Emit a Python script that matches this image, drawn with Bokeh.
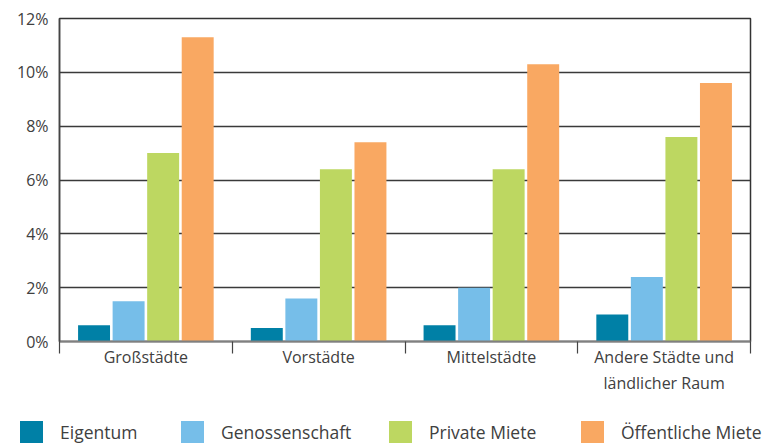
from bokeh.plotting import figure
from bokeh.models import Range1d, FixedTicker, ColumnDataSource, Div
from bokeh.layouts import column
from bokeh.embed import file_html
from bokeh.resources import INLINE

categories = ["Großstädte", "Vorstädte", "Mittelstädte", "Andere Städte und\nländlicher Raum"]
series_names = ["Eigentum", "Genossenschaft", "Private Miete", "Öffentliche Miete"]
eigentum = [0.6, 0.5, 0.6, 1.0]
genossenschaft = [1.5, 1.6, 2.0, 2.4]
private_miete = [7.0, 6.4, 6.4, 7.6]
oeffentliche_miete = [11.3, 7.4, 10.3, 9.6]
y_ticks = [0, 2, 4, 6, 8, 10, 12]
y_tick_labels = ["0%", "2%", "4%", "6%", "8%", "10%", "12%"]

colors = ["#0080a6", "#76bee9", "#bdd761", "#f9a862"]
offsets = [-0.3, -0.1, 0.1, 0.3]
legend_left_px = [20, 181, 389, 581]
FONT = "Open Sans"
TXT = "#404040"

p = figure(width=762, height=413, output_backend="svg", toolbar_location=None,
           x_range=Range1d(0, len(categories)), y_range=Range1d(0, 12),
           min_border_left=59, min_border_right=12, min_border_top=18, min_border_bottom=72)

for vals, col, off in zip([eigentum, genossenschaft, private_miete, oeffentliche_miete], colors, offsets):
    xs = [i + 0.5 + off for i in range(len(categories))]
    src = ColumnDataSource(dict(x=xs, top=vals))
    p.vbar(x="x", top="top", width=0.185, bottom=0, source=src, fill_color=col, line_color=None)

# x axis: labels at category centres, tick marks at category boundaries
p.xaxis.ticker = FixedTicker(ticks=[i + 0.5 for i in range(len(categories))],
                             minor_ticks=list(range(len(categories) + 1)))
p.xaxis.major_label_overrides = {i + 0.5: c for i, c in enumerate(categories)}
p.xaxis.major_tick_line_color = None
p.xaxis.major_tick_out = 0
p.xaxis.major_tick_in = 0
p.xaxis.minor_tick_out = 12
p.xaxis.minor_tick_in = 0
p.xaxis.minor_tick_line_color = "#444444"
p.xaxis.minor_tick_line_width = 1.2
p.xaxis.axis_line_color = "#808080"
p.xaxis.axis_line_width = 2
p.xaxis.major_label_text_font = FONT
p.xaxis.major_label_text_font_size = "16px"
p.xaxis.major_label_text_color = TXT
p.xaxis.major_label_standoff = -8

p.yaxis.ticker = FixedTicker(ticks=y_ticks)
p.yaxis.major_label_overrides = {t: l for t, l in zip(y_ticks, y_tick_labels)}
p.yaxis.major_tick_line_color = None
p.yaxis.major_tick_out = 0
p.yaxis.major_tick_in = 0
p.yaxis.minor_tick_line_color = None
p.yaxis.axis_line_color = "#444444"
p.yaxis.axis_line_width = 1.5
p.yaxis.major_label_text_font = FONT
p.yaxis.major_label_text_font_size = "16px"
p.yaxis.major_label_text_color = TXT
p.yaxis.major_label_standoff = 11

p.xgrid.grid_line_color = None
p.ygrid.ticker = FixedTicker(ticks=y_ticks)
p.ygrid.grid_line_color = "#3a3a3a"
p.ygrid.grid_line_width = 1.3

p.outline_line_color = "#333333"
p.outline_line_width = 1.5

# legend strip (HTML)
parts = []
for name, col, x in zip(series_names, colors, legend_left_px):
    parts.append(
        f'<div style="position:absolute;left:{x}px;top:8px;width:23px;height:22px;background:{col};"></div>'
        f'<div style="position:absolute;left:{x + 40}px;top:7px;white-space:nowrap;'
        f'font-family:\'{FONT}\';font-size:17.5px;line-height:normal;color:{TXT};">{name}</div>'
    )
html = ('<div style="position:relative;width:762px;height:30px;overflow:hidden;margin:0;padding:0;">'
        + "".join(parts) + "</div>")
lg = Div(text=html, width=762, height=30, margin=0)

layout = column(p, lg, spacing=0)
open("out.html", "w").write(file_html(layout, INLINE))
